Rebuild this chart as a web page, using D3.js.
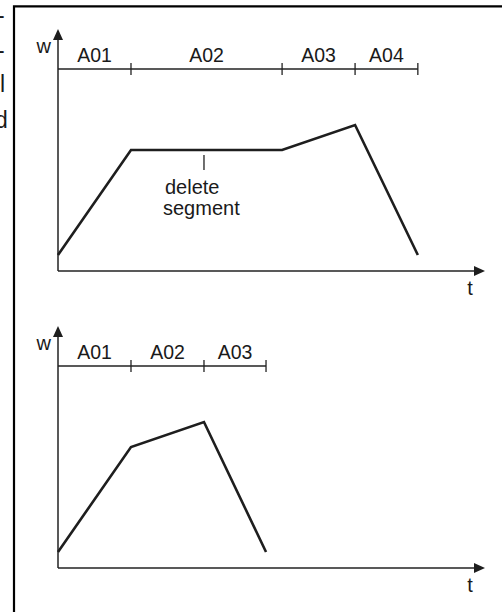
<!DOCTYPE html>
<html lang="en">
<head>
  <meta charset="UTF-8" />
  <title>Delete segment</title>
  <script src="https://d3js.org/d3.v7.min.js"></script>
  <style>
    body { margin: 0; background: #fff; }
    svg { display: block; }
    text { font-family: "Liberation Sans", Arial, Helvetica, sans-serif; fill: #1a1a1a; }
    .seg-label { font-size: 19.5px; }
    .axis-name { font-size: 20px; }
    .note { font-size: 20px; }
    .frag { font-size: 23px; fill: #111; }
  </style>
</head>
<body>
  <svg id="chart"></svg>

  <script>
    // segment boundaries (time, one unit ~ one short segment) and w values at each boundary
    const beforeNames = ["A01", "A02", "A03", "A04"];
    const beforeT     = [0, 1, 3.07, 4.07, 4.93];
    const beforeW     = [1.6, 12.1, 12.1, 14.6, 1.6];

    const afterNames  = ["A01", "A02", "A03"];
    const afterT      = [0, 1, 2, 2.85];
    const afterW      = [1.6, 12.1, 14.6, 1.6];

    const deletedAt   = 2.0;   // marker position inside A02
    const tMax = 5.85, wMax = 24.2, segW = 20.2;

    const width = 502, height = 612;
    const panelOffset = 297;

    const svg = d3.select("#chart").attr("width", width).attr("height", height);

    const x = d3.scaleLinear().domain([0, tMax]).range([58, 485]);
    const y = d3.scaleLinear().domain([0, wMax]).range([271, 29]);

    // frame (open to right and bottom) and fragments of the neighbouring column
    svg.append("path")
      .attr("d", "M14,612V6.3H502")
      .attr("fill", "none").attr("stroke", "#000").attr("stroke-width", 2.2);

    const frag = svg.append("g").attr("class", "frag");
    frag.append("text").attr("x", -3).attr("y", 23).text("-");
    frag.append("text").attr("x", -3).attr("y", 58).text("-");
    frag.append("text").attr("x", 0).attr("y", 92).text("l");
    frag.append("text").attr("x", -5).attr("y", 128).text("d");

    function drawPanel(g, names, ts, ws) {
      // axes
      g.append("line")
        .attr("x1", x(0)).attr("x2", x(0))
        .attr("y1", y(0)).attr("y2", y(wMax) + 8)
        .attr("stroke", "#222").attr("stroke-width", 1.5);
      g.append("line")
        .attr("x1", x(0)).attr("x2", x(tMax) - 8)
        .attr("y1", y(0)).attr("y2", y(0))
        .attr("stroke", "#222").attr("stroke-width", 1.5);
      g.append("path")
        .attr("d", `M${x(0)},${y(wMax)}L${x(0) - 5},${y(wMax) + 11}L${x(0) + 5},${y(wMax) + 11}Z`)
        .attr("fill", "#1e1e1e");
      g.append("path")
        .attr("d", `M${x(tMax)},${y(0)}L${x(tMax) - 11},${y(0) - 5}L${x(tMax) - 11},${y(0) + 5}Z`)
        .attr("fill", "#1e1e1e");

      g.append("text").attr("class", "axis-name")
        .attr("x", x(0) - 7).attr("y", y(wMax) + 24)
        .attr("text-anchor", "end").text("w");
      g.append("text").attr("class", "axis-name")
        .attr("x", x(tMax) - 15).attr("y", y(0) + 24)
        .attr("text-anchor", "middle").text("t");

      // segment bar
      g.append("line")
        .attr("x1", x(ts[0])).attr("x2", x(ts[ts.length - 1]))
        .attr("y1", y(segW)).attr("y2", y(segW))
        .attr("stroke", "#222").attr("stroke-width", 1.3);
      g.selectAll(".seg-tick")
        .data(ts.slice(1))
        .enter().append("line")
          .attr("class", "seg-tick")
          .attr("x1", d => x(d)).attr("x2", d => x(d))
          .attr("y1", y(segW) - 6).attr("y2", y(segW) + 6)
          .attr("stroke", "#222").attr("stroke-width", 1.3);
      g.selectAll(".seg-label")
        .data(names)
        .enter().append("text")
          .attr("class", "seg-label")
          .attr("x", (d, i) => (x(ts[i]) + x(ts[i + 1])) / 2)
          .attr("y", y(segW) - 7)
          .attr("text-anchor", "middle")
          .text(d => d);

      // profile
      const line = d3.line().x(d => x(d[0])).y(d => y(d[1]));
      g.append("path")
        .datum(ts.map((t, i) => [t, ws[i]]))
        .attr("d", line)
        .attr("fill", "none")
        .attr("stroke", "#1e1e1e")
        .attr("stroke-width", 2.6)
        .attr("stroke-linejoin", "miter");
    }

    const panelBefore = svg.append("g");
    drawPanel(panelBefore, beforeNames, beforeT, beforeW);

    // "delete segment" marker on A02
    panelBefore.append("line")
      .attr("x1", x(deletedAt)).attr("x2", x(deletedAt))
      .attr("y1", y(beforeW[1]) + 5).attr("y2", y(beforeW[1]) + 20)
      .attr("stroke", "#222").attr("stroke-width", 1.3);
    panelBefore.append("text").attr("class", "note")
      .attr("x", 165).attr("y", 194).text("delete");
    panelBefore.append("text").attr("class", "note")
      .attr("x", 163).attr("y", 215).text("segment");

    const panelAfter = svg.append("g").attr("transform", `translate(0,${panelOffset})`);
    drawPanel(panelAfter, afterNames, afterT, afterW);
  </script>
</body>
</html>
